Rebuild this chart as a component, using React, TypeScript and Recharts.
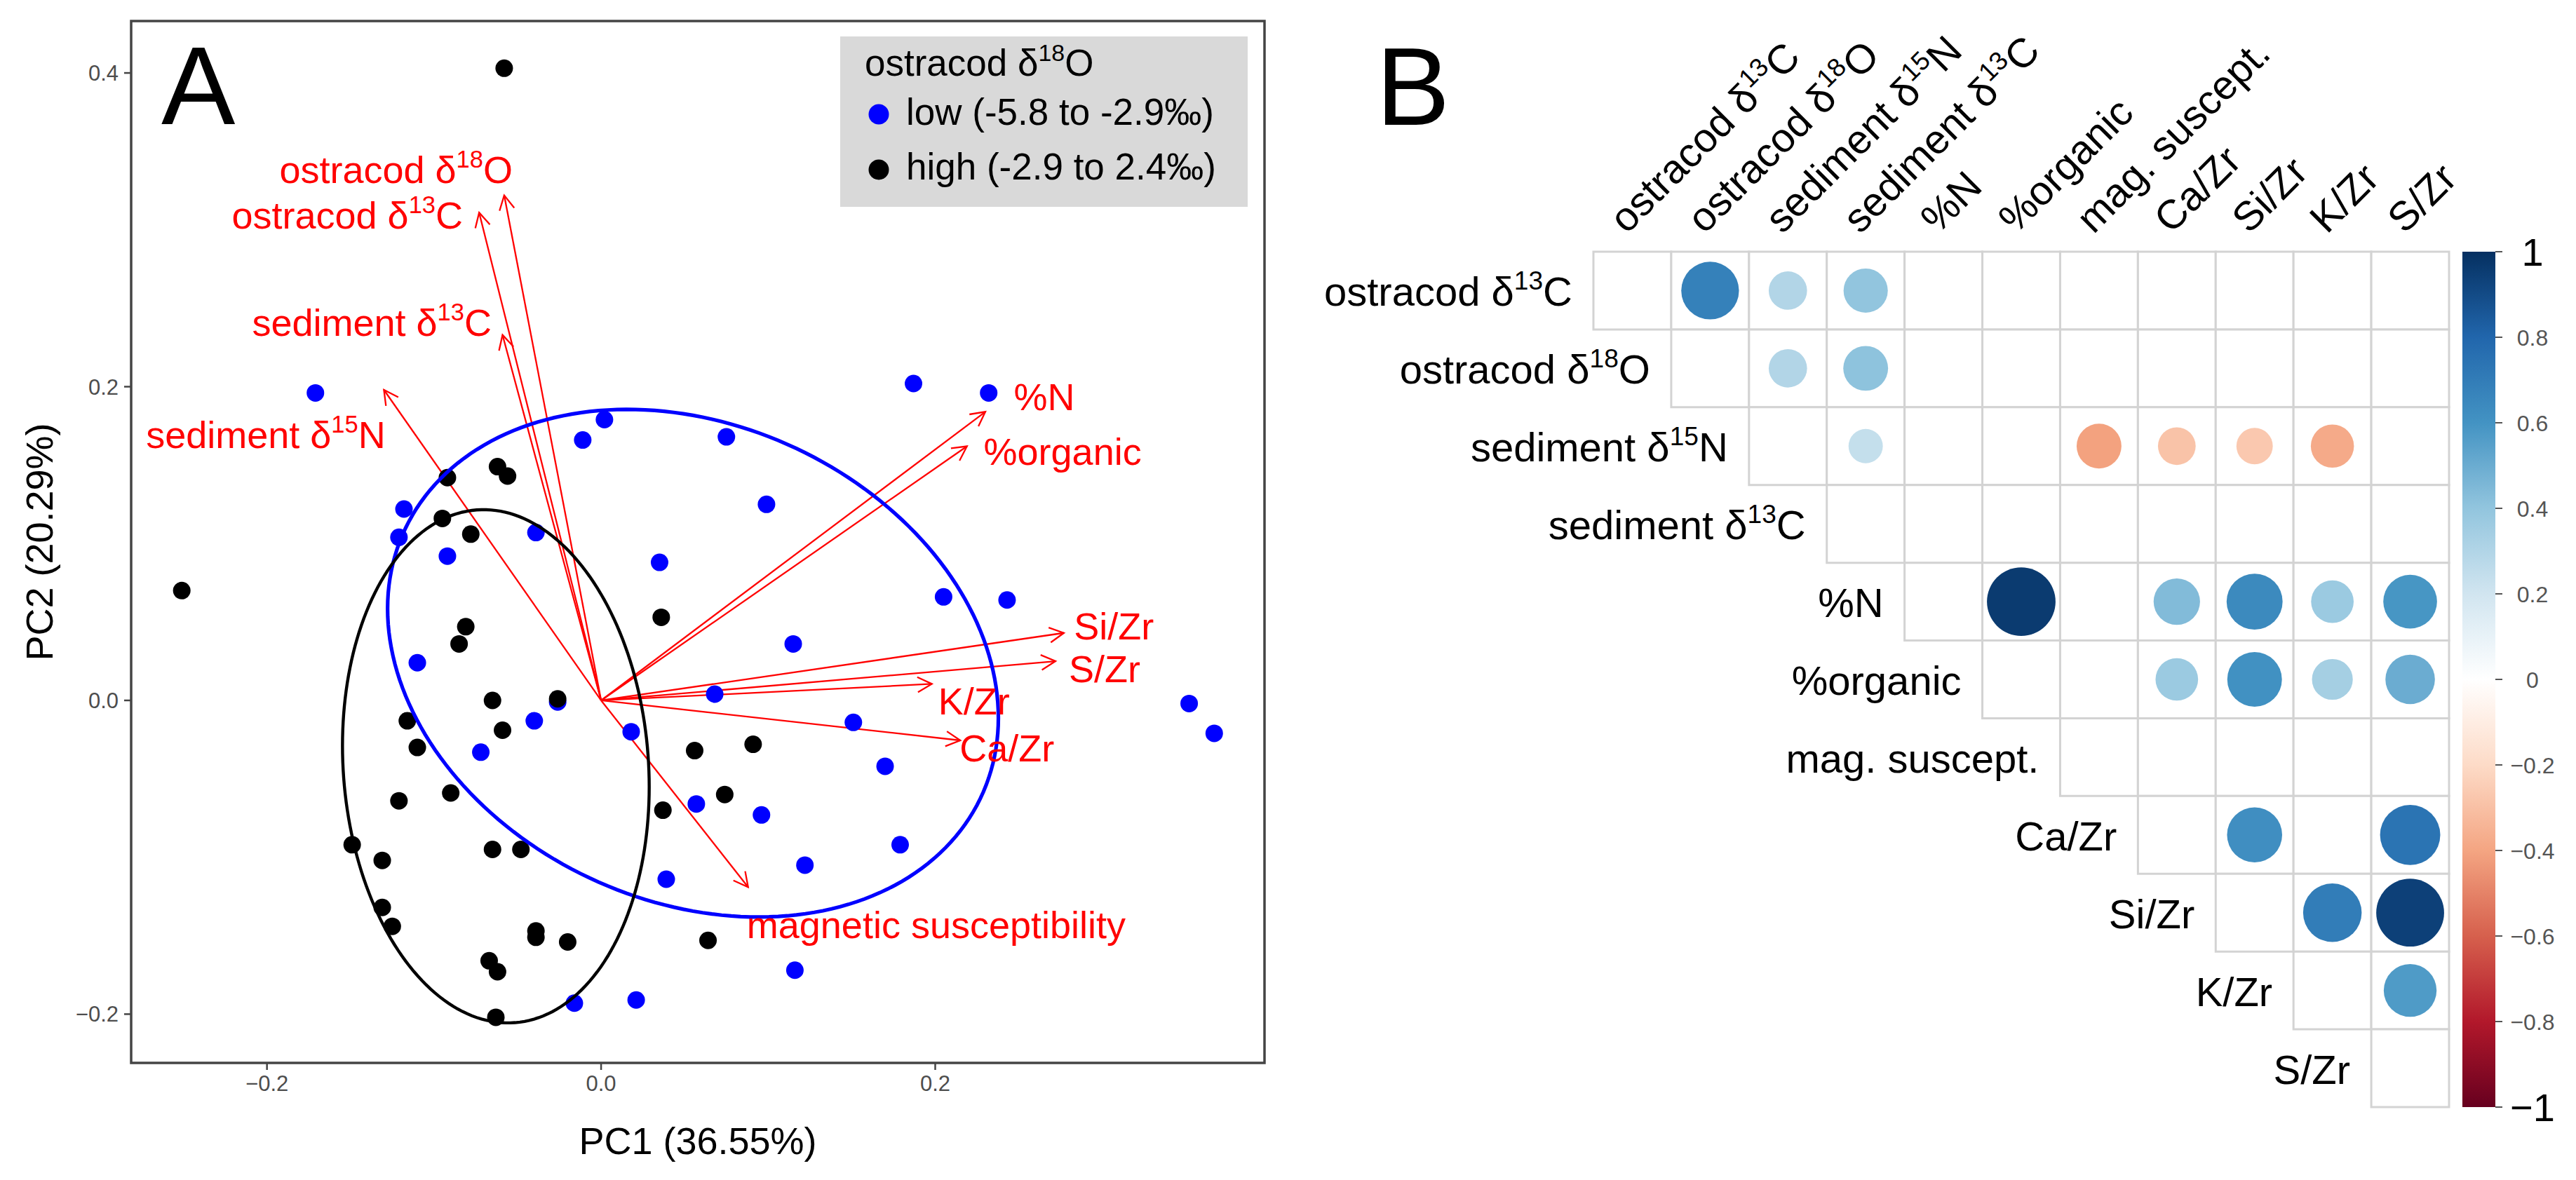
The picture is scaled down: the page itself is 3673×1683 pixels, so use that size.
import React from 'react';
import {
  ScatterChart, Scatter, XAxis, YAxis, ZAxis, ReferenceLine, ReferenceArea, Legend, BarChart, Bar,
} from 'recharts';

const FONT = '"Liberation Sans", Arial, Helvetica, sans-serif';

// ---------------- Panel A data (PCA biplot) ----------------
const lowPoints: [number, number][] = [
  [-0.171, 0.196], [0.002, 0.179], [-0.011, 0.166], [0.075, 0.168], [0.187, 0.202], [0.232, 0.196],
  [-0.118, 0.122], [-0.121, 0.104], [-0.092, 0.092], [-0.039, 0.107], [0.035, 0.088], [0.099, 0.125],
  [0.205, 0.066], [0.243, 0.064], [0.115, 0.036], [-0.110, 0.024], [0.068, 0.004], [-0.026, -0.001],
  [-0.040, -0.013], [-0.072, -0.033], [0.018, -0.020], [0.151, -0.014], [0.170, -0.042], [0.352, -0.002],
  [0.367, -0.021], [0.057, -0.066], [0.096, -0.073], [0.122, -0.105], [0.179, -0.092], [0.039, -0.114],
  [0.116, -0.172], [-0.016, -0.193], [0.021, -0.191],
];
const highPoints: [number, number][] = [
  [-0.058, 0.403], [-0.251, 0.070], [-0.092, 0.142], [-0.062, 0.149], [-0.056, 0.143], [-0.095, 0.116],
  [-0.078, 0.106], [0.036, 0.053], [-0.081, 0.047], [-0.085, 0.036], [-0.065, 0.000], [-0.026, 0.001],
  [-0.116, -0.013], [-0.059, -0.019], [-0.110, -0.030], [0.056, -0.032], [0.091, -0.028], [-0.121, -0.064],
  [-0.090, -0.059], [0.074, -0.060], [0.037, -0.070], [-0.149, -0.092], [-0.131, -0.102], [-0.065, -0.095],
  [-0.048, -0.095], [-0.131, -0.132], [-0.125, -0.144], [-0.039, -0.147], [-0.039, -0.151], [-0.020, -0.154],
  [0.064, -0.153], [-0.067, -0.166], [-0.062, -0.173], [-0.063, -0.202],
];

const loadingNames = [
  'ostracod δ^18^O', 'ostracod δ^13^C', 'sediment δ^13^C', 'sediment δ^15^N', '%N', '%organic',
  'Si/Zr', 'S/Zr', 'K/Zr', 'Ca/Zr', 'magnetic susceptibility',
];
const loadingTips: [number, number][] = [
  [-0.058, 0.322], [-0.073, 0.311], [-0.059, 0.233], [-0.130, 0.198], [0.230, 0.184], [0.219, 0.162],
  [0.277, 0.043], [0.272, 0.025], [0.198, 0.0105], [0.215, -0.0255], [0.088, -0.119],
];
const loadingLabelPos: [number, number, 'start' | 'end'][] = [
  [-0.0529, 0.330, 'end'], [-0.0827, 0.301, 'end'], [-0.0655, 0.2326, 'end'], [-0.129, 0.161, 'end'],
  [0.247, 0.185, 'start'], [0.229, 0.150, 'start'], [0.283, 0.0388, 'start'], [0.280, 0.0115, 'start'],
  [0.2018, -0.0091, 'start'], [0.2146, -0.0388, 'start'], [0.0872, -0.1516, 'start'],
];

// group ellipses: centre, half-extent in x and y, cosine of phase offset
const ellipseParams = [
  { cx: 0.055, cy: 0.0237, ax: 0.1828, ay: 0.1618, cosd: -0.215, color: '#0000FF', width: 5.2 },
  { cx: -0.063, cy: -0.042, ax: 0.0918, ay: 0.1636, cosd: -0.08, color: '#000000', width: 4.4 },
];

const xTicksA = [-0.2, 0, 0.2];
const yTicksA = [-0.2, 0, 0.2, 0.4];
const X_DOMAIN: [number, number] = [-0.2813, 0.3971];
const Y_DOMAIN: [number, number] = [-0.2311, 0.4331];

const legendTitle = 'ostracod δ^18^O';
const legendItems = [
  { label: 'low (-5.8 to -2.9‰)', color: '#0000FF' },
  { label: 'high (-2.9 to 2.4‰)', color: '#000000' },
];

// ---------------- Panel B data (correlation matrix) ----------------
const varNames = [
  'ostracod δ^13^C', 'ostracod δ^18^O', 'sediment δ^15^N', 'sediment δ^13^C', '%N', '%organic',
  'mag. suscept.', 'Ca/Zr', 'Si/Zr', 'K/Zr', 'S/Zr',
];
const corrValues: [number, number, number][] = [
  [0, 1, 0.68], [0, 2, 0.30], [0, 3, 0.40],
  [1, 2, 0.30], [1, 3, 0.41],
  [2, 3, 0.24], [2, 6, -0.41], [2, 7, -0.29], [2, 8, -0.27], [2, 9, -0.38],
  [4, 5, 0.96], [4, 7, 0.44], [4, 8, 0.64], [4, 9, 0.37], [4, 10, 0.59],
  [5, 7, 0.37], [5, 8, 0.61], [5, 9, 0.34], [5, 10, 0.50],
  [7, 8, 0.62], [7, 10, 0.74],
  [8, 9, 0.70], [8, 10, 0.94],
  [9, 10, 0.57],
];
const colorbarTicks = [-1, -0.8, -0.6, -0.4, -0.2, 0, 0.2, 0.4, 0.6, 0.8, 1];
const RDBU = ['#67001F', '#B2182B', '#D6604D', '#F4A582', '#FDDBC7', '#FFFFFF', '#D1E5F0', '#92C5DE', '#4393C3', '#2166AC', '#053061'];

// ---------------- helpers ----------------
function hexToRgb(h: string) {
  return [parseInt(h.slice(1, 3), 16), parseInt(h.slice(3, 5), 16), parseInt(h.slice(5, 7), 16)];
}
function corrColor(v: number) {
  const t = ((v + 1) / 2) * 10;
  const i = Math.max(0, Math.min(9, Math.floor(t)));
  const f = t - i;
  const a = hexToRgb(RDBU[i]);
  const b = hexToRgb(RDBU[i + 1]);
  const c = a.map((av, k) => Math.round(av + (b[k] - av) * f));
  return `rgb(${c[0]},${c[1]},${c[2]})`;
}

function Rich({ x, y, label, fontSize, fill, anchor = 'start', transform }: any) {
  const [base, sup, rest] = String(label).split('^');
  const s = fontSize * 0.64;
  const shift = fontSize * 0.4;
  return (
    <text x={x} y={y} fontSize={fontSize} fill={fill} textAnchor={anchor} fontFamily={FONT} transform={transform}>
      {base}
      {sup !== undefined && <tspan fontSize={s} dy={-shift}>{sup}</tspan>}
      {rest !== undefined && <tspan dy={shift}>{rest}</tspan>}
    </text>
  );
}

function ellipsePoints(p: typeof ellipseParams[number]) {
  const d = Math.acos(p.cosd);
  const pts: { x: number; y: number }[] = [];
  for (let i = 0; i <= 200; i++) {
    const t = (i / 200) * 2 * Math.PI;
    pts.push({ x: p.cx + p.ax * Math.cos(t), y: p.cy + p.ay * Math.cos(t - d) });
  }
  return pts;
}

const fmtTick = (v: number) => (v < 0 ? '−' : '') + Math.abs(v).toFixed(1);

const lowData = lowPoints.map(([x, y]) => ({ x, y }));
const highData = highPoints.map(([x, y]) => ({ x, y }));
const labelData = loadingNames.map((name, i) => ({
  x: loadingLabelPos[i][0], y: loadingLabelPos[i][1], anchor: loadingLabelPos[i][2], name,
}));

const blueDot = (p: any) => <circle cx={p.cx} cy={p.cy} r={12.5} fill="#0000FF" />;
const blackDot = (p: any) => <circle cx={p.cx} cy={p.cy} r={12.5} fill="#000000" />;
const noShape = () => <g />;
const labelShape = (p: any) => (
  <Rich x={p.cx} y={p.cy} label={p.payload.name} fontSize={54} fill="#FF0000" anchor={p.payload.anchor} />
);

const ArrowShape = (props: any) => {
  const { x1, y1, x2, y2 } = props;
  const ang = Math.atan2(y2 - y1, x2 - x1);
  const L = 23;
  const w = Math.PI / 6.5;
  const a1x = x2 - L * Math.cos(ang - w);
  const a1y = y2 - L * Math.sin(ang - w);
  const a2x = x2 - L * Math.cos(ang + w);
  const a2y = y2 - L * Math.sin(ang + w);
  return (
    <g>
      <line x1={x1} y1={y1} x2={x2} y2={y2} stroke="#FF0000" strokeWidth={2.3} />
      <polyline points={`${a1x},${a1y} ${x2},${y2} ${a2x},${a2y}`} fill="none" stroke="#FF0000" strokeWidth={2.3} />
    </g>
  );
};

const renderLegend = () => (
  <svg width={581} height={243} style={{ display: 'block' }}>
    <rect x={0} y={0} width={581} height={243} fill="#D9D9D9" />
    <Rich x={35} y={56} label={legendTitle} fontSize={53} fill="#000" />
    {legendItems.map((it, i) => (
      <g key={it.label}>
        <circle cx={55} cy={111 + 79 * i} r={14.5} fill={it.color} />
        <text x={94} y={126 + 78 * i} fontSize={53} fontFamily={FONT} fill="#000">{it.label}</text>
      </g>
    ))}
  </svg>
);

// panel B derived tables
const cellData: { row: number; col: number }[] = [];
for (let r = 0; r < varNames.length; r++) {
  for (let c = r; c < varNames.length; c++) cellData.push({ row: r, col: c });
}
const corrData = corrValues.map(([row, col, v]) => ({ x: col, y: row, a: Math.abs(v), v }));
const rowLabelData = varNames.map((name, i) => ({ x: i - 0.5, y: i, name }));
const colLabelData = varNames.map((name, i) => ({ x: i, y: -0.5, name }));

const corrCircle = (p: any) => {
  const r = p.size !== undefined ? Math.sqrt(p.size / Math.PI) : (p.width || 0) / 2;
  return <circle cx={p.cx} cy={p.cy} r={r} fill={corrColor(p.payload.v)} />;
};
const rowLabelShape = (p: any) => (
  <Rich x={p.cx - 30} y={p.cy + 22} label={p.payload.name} fontSize={58} fill="#000" anchor="end" />
);
const colLabelShape = (p: any) => {
  const x = p.cx - 8;
  const y = p.cy - 24;
  return <Rich x={x} y={y} label={p.payload.name} fontSize={58} fill="#000" anchor="start" transform={`rotate(-45 ${x} ${y})`} />;
};

const fmtBar = (v: number) => {
  if (v === 0) return '0';
  const s = v < 0 ? '−' : '';
  if (Math.abs(v) === 1) return s + '1';
  return s + Math.abs(v).toFixed(1);
};
const ColorbarTick = (props: any) => {
  const { x, y, payload } = props;
  const v = payload.value;
  const big = Math.abs(v) === 1;
  const fs = big ? 56 : 32;
  return (
    <text x={x + 41} y={y + fs * 0.36} textAnchor="middle" fontSize={fs} fontFamily={FONT} fill={big ? '#000' : '#555'}>
      {fmtBar(v)}
    </text>
  );
};

const colorbarData = [{ name: 'r', v: [-1, 1] }];

export default function App() {
  return (
    <div style={{ position: 'absolute', left: 0, top: 0, width: 3673, height: 1683, background: '#fff', overflow: 'hidden' }}>
      {/* Panel A */}
      <div style={{ position: 'absolute', left: 0, top: 0 }}>
        <ScatterChart width={1850} height={1683} margin={{ top: 30, right: 47, bottom: 107, left: 67 }}>
          <XAxis
            type="number" dataKey="x" domain={X_DOMAIN} ticks={xTicksA} tickFormatter={fmtTick}
            height={60} tickSize={10} tickMargin={8} axisLine={false}
            tickLine={{ stroke: '#444', strokeWidth: 2.5 }}
            tick={{ fill: '#4D4D4D', fontSize: 31, fontFamily: FONT }}
          />
          <YAxis
            type="number" dataKey="y" domain={Y_DOMAIN} ticks={yTicksA} tickFormatter={fmtTick}
            width={120} tickSize={10} tickMargin={8} axisLine={false}
            tickLine={{ stroke: '#444', strokeWidth: 2.5 }}
            tick={{ fill: '#4D4D4D', fontSize: 31, fontFamily: FONT }}
          />
          <Scatter data={lowData} shape={blueDot} isAnimationActive={false} legendType="none" />
          <Scatter data={highData} shape={blackDot} isAnimationActive={false} legendType="none" />
          {ellipseParams.map((p, i) => (
            <Scatter
              key={`ell${i}`} data={ellipsePoints(p)} line={{ stroke: p.color, strokeWidth: p.width }}
              shape={noShape} isAnimationActive={false} legendType="none"
            />
          ))}
          {loadingTips.map(([x, y], i) => (
            <ReferenceLine key={`arr${i}`} segment={[{ x: 0, y: 0 }, { x, y }]} shape={ArrowShape} ifOverflow="visible" />
          ))}
          <Scatter data={labelData} shape={labelShape} isAnimationActive={false} legendType="none" />
          <ReferenceArea
            x1={X_DOMAIN[0]} x2={X_DOMAIN[1]} y1={Y_DOMAIN[0]} y2={Y_DOMAIN[1]}
            fill="none" fillOpacity={0} stroke="#444" strokeWidth={3.5} ifOverflow="visible"
          />
          <Legend
            content={renderLegend} layout="vertical" align="center" verticalAlign="middle"
            wrapperStyle={{ position: 'absolute', left: 1198, top: 52, width: 581, height: 243, margin: 0, padding: 0 }}
          />
        </ScatterChart>
      </div>

      {/* Panel B */}
      <div style={{ position: 'absolute', left: 1850, top: 0 }}>
        <ScatterChart width={1720} height={1683} margin={{ top: 359, right: 78, bottom: 104, left: 422 }}>
          <XAxis type="number" dataKey="x" domain={[-0.5, 10.5]} hide />
          <YAxis type="number" dataKey="y" domain={[-0.5, 10.5]} reversed hide />
          <ZAxis type="number" dataKey="a" domain={[0, 1]} range={[0, 7824]} />
          {cellData.map((c) => (
            <ReferenceArea
              key={`c${c.row}-${c.col}`} x1={c.col - 0.5} x2={c.col + 0.5} y1={c.row - 0.5} y2={c.row + 0.5}
              fill="#FFFFFF" fillOpacity={1} stroke="#D3D3D3" strokeWidth={3} ifOverflow="visible"
            />
          ))}
          <Scatter data={corrData} shape={corrCircle} isAnimationActive={false} />
          <Scatter data={rowLabelData} shape={rowLabelShape} isAnimationActive={false} />
          <Scatter data={colLabelData} shape={colLabelShape} isAnimationActive={false} />
        </ScatterChart>
      </div>

      {/* Colour bar */}
      <div style={{ position: 'absolute', left: 3450, top: 0 }}>
        <BarChart width={223} height={1683} data={colorbarData} margin={{ top: 359, right: 15, bottom: 104, left: 61 }} barCategoryGap={0} barGap={0}>
          <XAxis dataKey="name" hide />
          <YAxis yAxisId="l" orientation="left" domain={[-1, 1]} width={0} tick={false} tickLine={false} axisLine={{ stroke: '#666', strokeWidth: 2 }} />
          <YAxis
            yAxisId="r" orientation="right" domain={[-1, 1]} ticks={colorbarTicks} interval={0} width={100}
            axisLine={false} tickSize={10} tickLine={{ stroke: '#555', strokeWidth: 2 }} tick={ColorbarTick}
          />
          <Bar yAxisId="r" dataKey="v" fill="url(#rdbuGrad)" isAnimationActive={false} />
        </BarChart>
      </div>

      {/* Panel letters, axis titles, gradient definition */}
      <svg width={3673} height={1683} style={{ position: 'absolute', left: 0, top: 0, pointerEvents: 'none' }}>
        <defs>
          <linearGradient id="rdbuGrad" x1="0" y1="0" x2="0" y2="1">
            {RDBU.slice().reverse().map((c, i) => (
              <stop key={c} offset={`${i * 10}%`} stopColor={c} />
            ))}
          </linearGradient>
        </defs>
        <text x={230} y={177} fontSize={158} fontFamily={FONT} fill="#000">A</text>
        <text x={1962} y={178} fontSize={158} fontFamily={FONT} fill="#000">B</text>
        <text x={995} y={1646} fontSize={54} fontFamily={FONT} fill="#000" textAnchor="middle">PC1 (36.55%)</text>
        <text x={75} y={773} fontSize={54} fontFamily={FONT} fill="#000" textAnchor="middle" transform="rotate(-90 75 773)">PC2 (20.29%)</text>
      </svg>
    </div>
  );
}
